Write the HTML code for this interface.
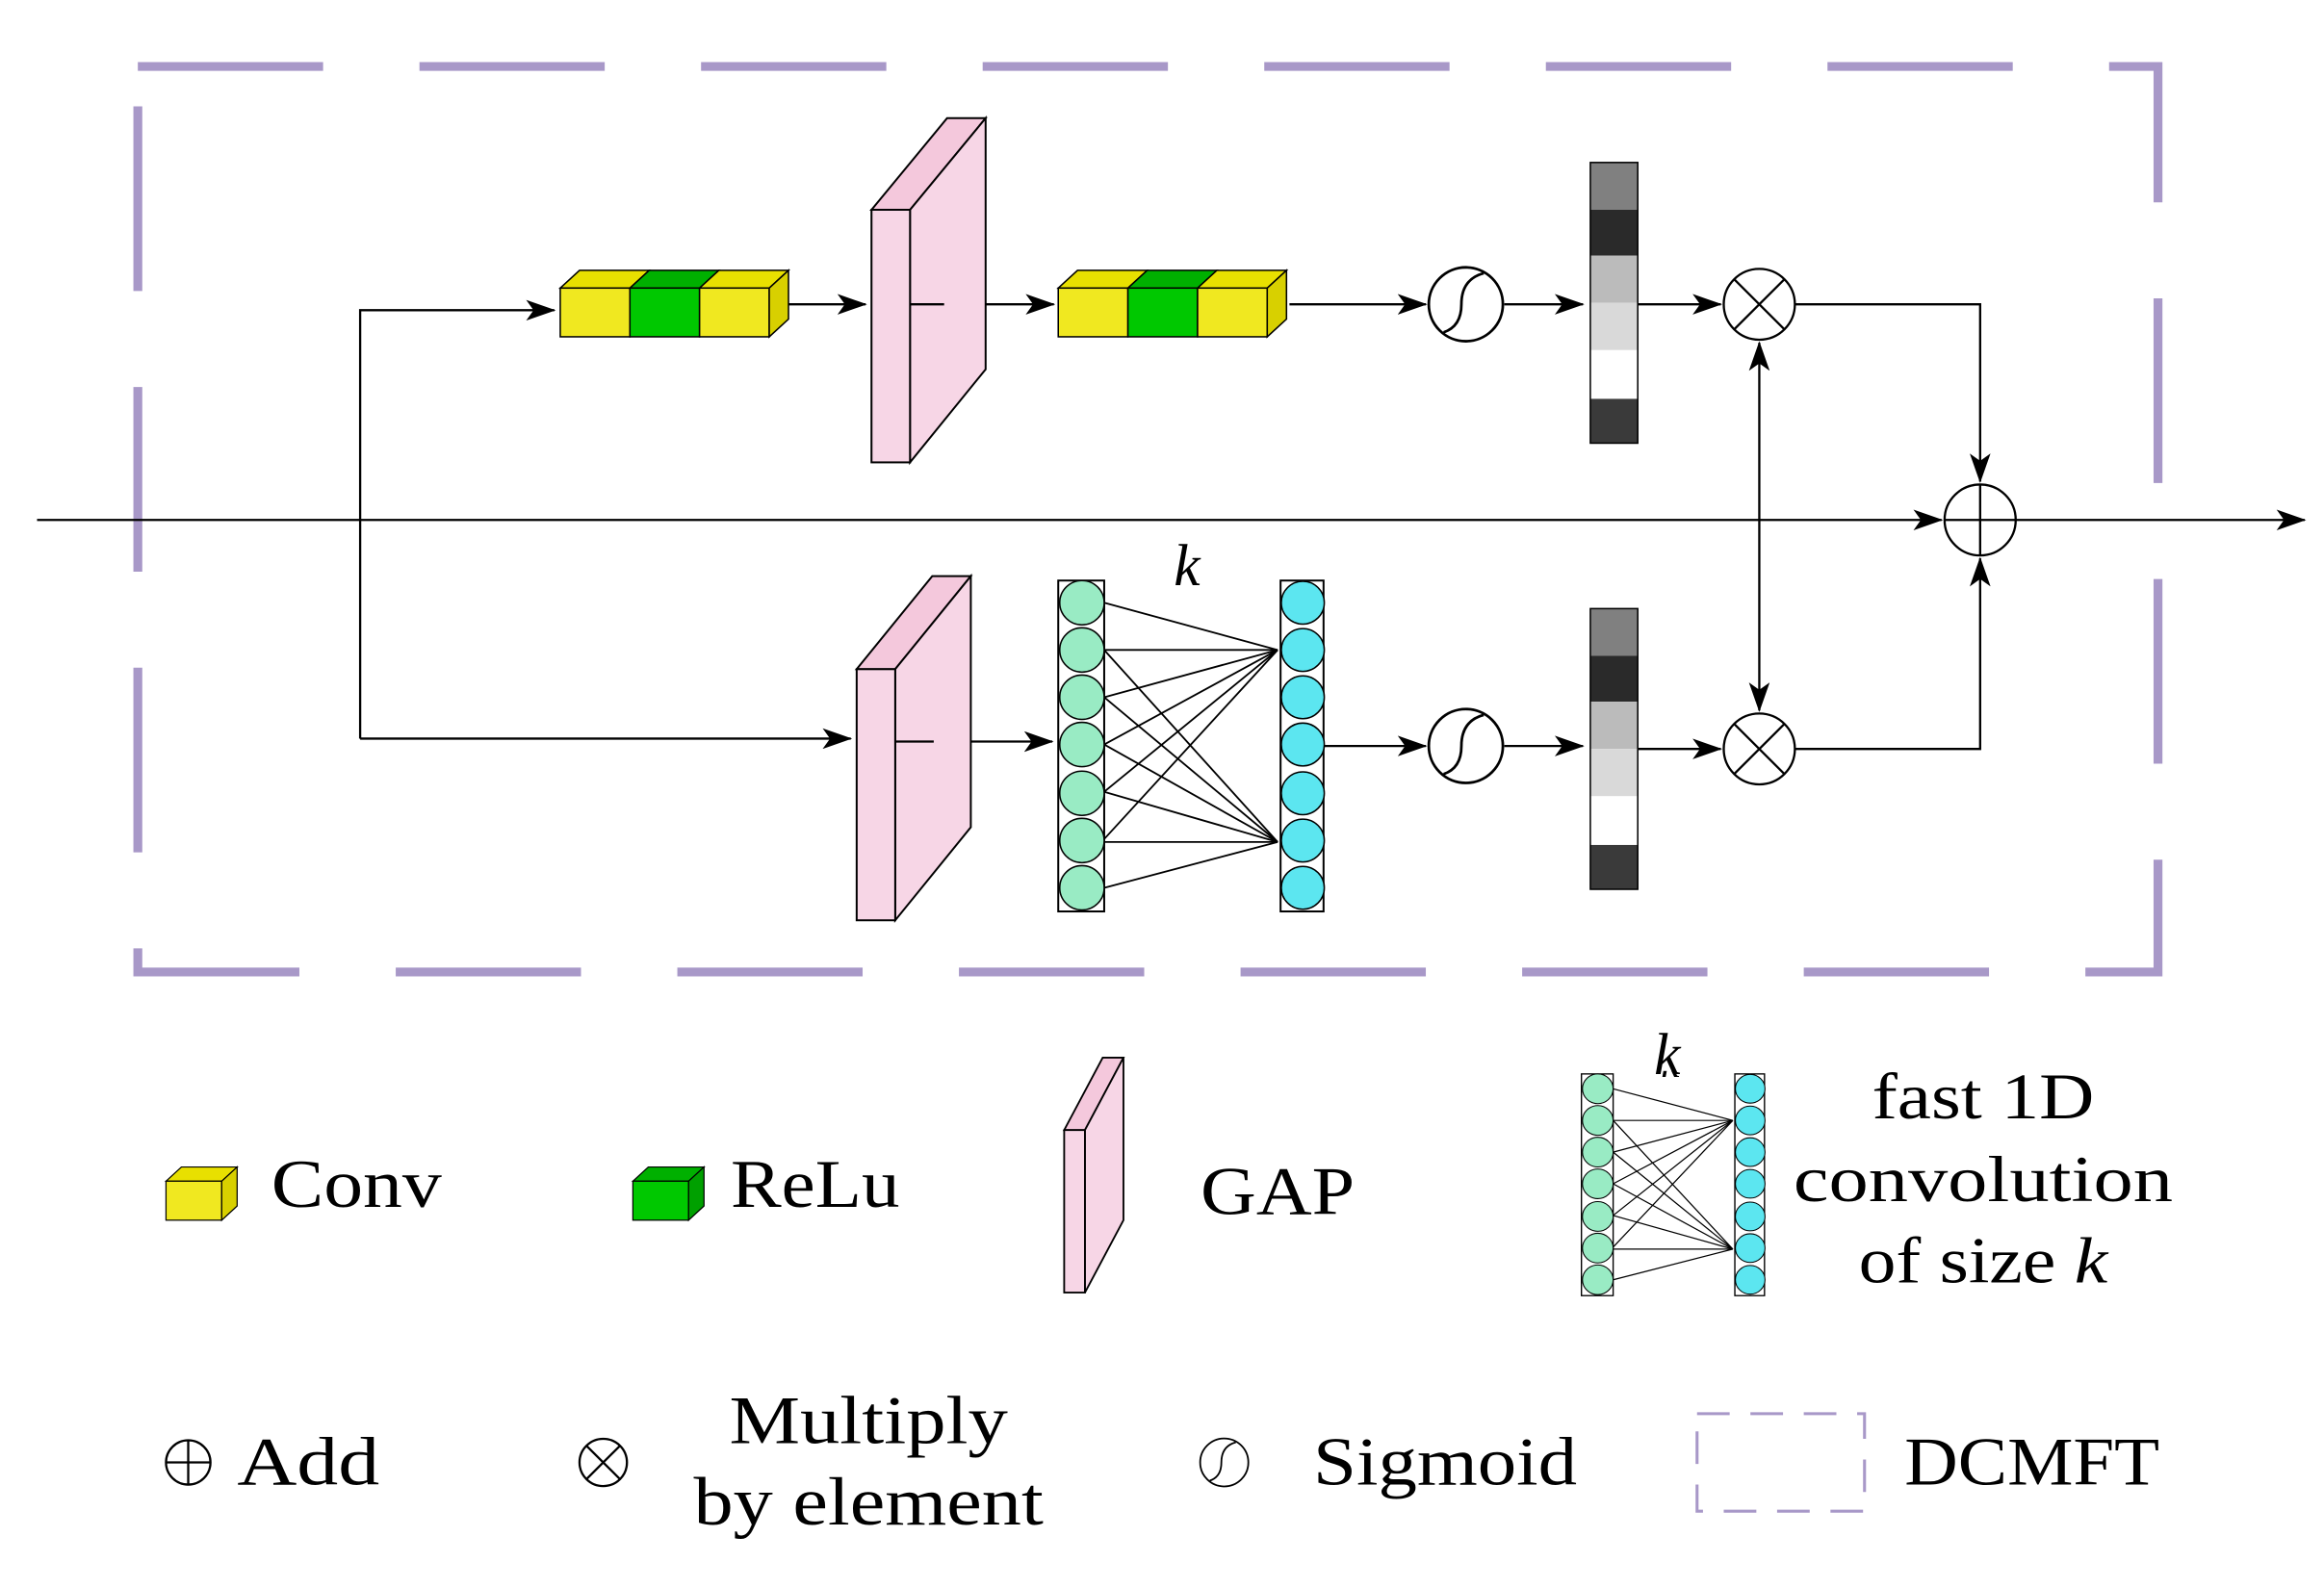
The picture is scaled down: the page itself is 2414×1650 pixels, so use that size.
<!DOCTYPE html>
<html><head><meta charset="utf-8"><style>html,body{margin:0;padding:0;background:#fff}svg{display:block}</style></head><body>
<svg width="2414" height="1650" viewBox="0 0 1568 1075" preserveAspectRatio="none" xmlns="http://www.w3.org/2000/svg" font-family="Liberation Serif, serif">
<defs>
<marker id="a" markerWidth="20" markerHeight="14" refX="19" refY="7" orient="auto" markerUnits="userSpaceOnUse"><path d="M0,0 L20,7 L0,14 L5,7 Z" fill="#000"/></marker>
<g id="cubeY"><path d="M0,12 L13,0 L60,0 L47,12 Z" fill="#e8e000" stroke="#000" stroke-width="1"/><rect x="0" y="12" width="47" height="33" fill="#f0e820" stroke="#000" stroke-width="1"/></g>
<g id="cubeG"><path d="M0,12 L13,0 L60,0 L47,12 Z" fill="#00b000" stroke="#000" stroke-width="1"/><rect x="0" y="12" width="47" height="33" fill="#00c800" stroke="#000" stroke-width="1"/></g>
<g id="conv3"><use href="#cubeY" x="0"/><use href="#cubeG" x="47"/><use href="#cubeY" x="94"/><path d="M141,12 L154,0 L154,33 L141,45 Z" fill="#d8d000" stroke="#000" stroke-width="1"/></g>
<g id="bar"><rect x="0" y="0" width="32" height="32" fill="#808080"/><rect x="0" y="32" width="32" height="31" fill="#2a2a2a"/><rect x="0" y="63" width="32" height="32" fill="#bbb"/><rect x="0" y="95" width="32" height="32" fill="#d9d9d9"/><rect x="0" y="127" width="32" height="33" fill="#fff"/><rect x="0" y="160" width="32" height="30" fill="#3a3a3a"/><rect x="0" y="0" width="32" height="190" fill="none" stroke="#000" stroke-width="1"/></g>
<g id="sig"><circle r="25" fill="#fff" stroke="#000" stroke-width="1.8"/><path d="M-15,19 Q-3,15 -3,0 Q-3,-17 12,-21" fill="none" stroke="#000" stroke-width="1.8"/></g>
<g id="mul"><circle r="24" fill="#fff" stroke="#000" stroke-width="1.5"/><path d="M-17,-17 L17,17 M17,-17 L-17,17" stroke="#000" stroke-width="1.5"/></g>
</defs>
<rect x="93" y="45" width="1363" height="613" fill="none" stroke="#a898c8" stroke-width="6" stroke-dasharray="125,65"/>
<g stroke="#000" stroke-width="1.5" fill="none">
<line x1="25" y1="352" x2="1310" y2="352" marker-end="url(#a)"/>
<line x1="1360" y1="352" x2="1555" y2="352" marker-end="url(#a)"/>
<polyline points="243,500 243,210 374,210" marker-end="url(#a)"/>
<line x1="243" y1="500" x2="574" y2="500" marker-end="url(#a)"/>
<line x1="532" y1="206" x2="584" y2="206" marker-end="url(#a)"/>
<line x1="637" y1="206" x2="711" y2="206" marker-end="url(#a)"/>
<line x1="870" y1="206" x2="962" y2="206" marker-end="url(#a)"/>
<line x1="1015" y1="206" x2="1068" y2="206" marker-end="url(#a)"/>
<line x1="1105" y1="206" x2="1161" y2="206" marker-end="url(#a)"/>
<polyline points="1211,206 1336,206 1336,326" marker-end="url(#a)"/>
<line x1="1187" y1="300" x2="1187" y2="232" marker-end="url(#a)"/>
<line x1="1187" y1="300" x2="1187" y2="481" marker-end="url(#a)"/>
<line x1="630" y1="502" x2="710" y2="502" marker-end="url(#a)"/>
<line x1="893" y1="505" x2="962" y2="505" marker-end="url(#a)"/>
<line x1="1015" y1="505" x2="1068" y2="505" marker-end="url(#a)"/>
<line x1="1105" y1="507" x2="1161" y2="507" marker-end="url(#a)"/>
<polyline points="1211,507 1336,507 1336,378" marker-end="url(#a)"/>
</g>
<use href="#conv3" x="378" y="183"/>
<use href="#conv3" x="714" y="183"/>
<path d="M588,142 L639,80 L665,80 L614,142 Z" fill="#f4c8dc" stroke="#000" stroke-width="1.3"/>
<path d="M614,142 L665,80 L665,250 L614,313 Z" fill="#f7d6e6" stroke="#000" stroke-width="1.3"/>
<rect x="588" y="142" width="26" height="171" fill="#f7d6e6" stroke="#000" stroke-width="1.3"/>
<line x1="614" y1="206" x2="637" y2="206" stroke="#000" stroke-width="1.5"/>
<path d="M578,453 L629,390 L655,390 L604,453 Z" fill="#f4c8dc" stroke="#000" stroke-width="1.3"/>
<path d="M604,453 L655,390 L655,560 L604,623 Z" fill="#f7d6e6" stroke="#000" stroke-width="1.3"/>
<rect x="578" y="453" width="26" height="170" fill="#f7d6e6" stroke="#000" stroke-width="1.3"/>
<line x1="604" y1="502" x2="630" y2="502" stroke="#000" stroke-width="1.5"/>
<use href="#sig" x="989" y="206"/>
<use href="#sig" x="989" y="505"/>
<use href="#bar" x="1073" y="110"/>
<use href="#bar" x="1073" y="412"/>
<use href="#mul" x="1187" y="206"/>
<use href="#mul" x="1187" y="507"/>
<circle cx="1336" cy="352" r="24" fill="#fff" stroke="#000" stroke-width="1.5"/>
<path d="M1312,352 L1360,352 M1336,328 L1336,376" stroke="#000" stroke-width="1.5"/>
<g id="nn">
<g stroke="#000" stroke-width="1.2">
<line x1="745" y1="408" x2="862" y2="440"/><line x1="745" y1="440" x2="862" y2="440"/><line x1="745" y1="472" x2="862" y2="440"/><line x1="745" y1="504" x2="862" y2="440"/><line x1="745" y1="536" x2="862" y2="440"/><line x1="745" y1="568" x2="862" y2="440"/>
<line x1="745" y1="440" x2="862" y2="570"/><line x1="745" y1="472" x2="862" y2="570"/><line x1="745" y1="504" x2="862" y2="570"/><line x1="745" y1="536" x2="862" y2="570"/><line x1="745" y1="570" x2="862" y2="570"/><line x1="745" y1="601" x2="862" y2="570"/>
</g>
<rect x="714" y="393" width="31" height="224" fill="#fff" stroke="#000" stroke-width="1.3"/>
<rect x="864" y="393" width="29" height="224" fill="#fff" stroke="#000" stroke-width="1.3"/>
<g fill="#99ebc4" stroke="#000" stroke-width="1"><circle cx="730" cy="408" r="15"/><circle cx="730" cy="440" r="15"/><circle cx="730" cy="472" r="15"/><circle cx="730" cy="504" r="15"/><circle cx="730" cy="537" r="15"/><circle cx="730" cy="569" r="15"/><circle cx="730" cy="601" r="15"/></g>
<g fill="#5ce6f0" stroke="#000" stroke-width="1"><circle cx="879" cy="408" r="14.5"/><circle cx="879" cy="440" r="14.5"/><circle cx="879" cy="472" r="14.5"/><circle cx="879" cy="504" r="14.5"/><circle cx="879" cy="537" r="14.5"/><circle cx="879" cy="569" r="14.5"/><circle cx="879" cy="601" r="14.5"/></g>
<text x="792" y="396" font-size="40" font-style="italic">k</text>
</g>
<g transform="translate(112,790) scale(0.8)"><use href="#cubeY"/><path d="M47,12 L60,0 L60,33 L47,45 Z" fill="#d8d000" stroke="#000" stroke-width="1"/></g>
<text x="183" y="817" font-size="46" textLength="115" lengthAdjust="spacingAndGlyphs">Conv</text>
<g transform="translate(427,790) scale(0.8)"><use href="#cubeG"/><path d="M47,12 L60,0 L60,33 L47,45 Z" fill="#00a000" stroke="#000" stroke-width="1"/></g>
<text x="493" y="817" font-size="46" textLength="114" lengthAdjust="spacingAndGlyphs">ReLu</text>
<path d="M718,765 L744,716 L758,716 L732,765 Z" fill="#f4c8dc" stroke="#000" stroke-width="1.2"/>
<path d="M732,765 L758,716 L758,826 L732,875 Z" fill="#f7d6e6" stroke="#000" stroke-width="1.2"/>
<rect x="718" y="765" width="14" height="110" fill="#f7d6e6" stroke="#000" stroke-width="1.2"/>
<text x="810" y="822" font-size="46" textLength="104" lengthAdjust="spacingAndGlyphs">GAP</text>
<g transform="translate(1067,727) scale(0.69,0.67) translate(-714,-393)"><use href="#nn"/></g>
<rect x="1058" y="690" width="90" height="35" fill="#fff"/>
<text x="1116" y="727" font-size="40" font-style="italic">k</text>
<text x="1338" y="757" font-size="44" text-anchor="middle" textLength="150" lengthAdjust="spacingAndGlyphs">fast 1D</text>
<text x="1338" y="813" font-size="44" text-anchor="middle" textLength="256" lengthAdjust="spacingAndGlyphs">convolution</text>
<text x="1338" y="868" font-size="44" text-anchor="middle" textLength="168" lengthAdjust="spacingAndGlyphs">of size <tspan font-style="italic">k</tspan></text>
<circle cx="127" cy="990" r="15" fill="none" stroke="#000" stroke-width="1.5"/>
<path d="M112,990 L142,990 M127,975 L127,1005" stroke="#000" stroke-width="1.5"/>
<text x="160" y="1005" font-size="46" textLength="96" lengthAdjust="spacingAndGlyphs">Add</text>
<circle cx="407" cy="990" r="16" fill="none" stroke="#000" stroke-width="1.5"/>
<path d="M396,979 L418,1001 M418,979 L396,1001" stroke="#000" stroke-width="1.5"/>
<text x="586" y="977" font-size="46" text-anchor="middle" textLength="188" lengthAdjust="spacingAndGlyphs">Multiply</text>
<text x="586" y="1032" font-size="46" text-anchor="middle" textLength="236" lengthAdjust="spacingAndGlyphs">by element</text>
<g transform="translate(826,990) scale(0.65)"><use href="#sig"/></g>
<text x="886" y="1005" font-size="46" textLength="178" lengthAdjust="spacingAndGlyphs">Sigmoid</text>
<rect x="1145" y="957" width="113" height="66" fill="none" stroke="#a898c8" stroke-width="2" stroke-dasharray="22,14"/>
<text x="1285" y="1005" font-size="46" textLength="172" lengthAdjust="spacingAndGlyphs">DCMFT</text>
</svg>
</body></html>
